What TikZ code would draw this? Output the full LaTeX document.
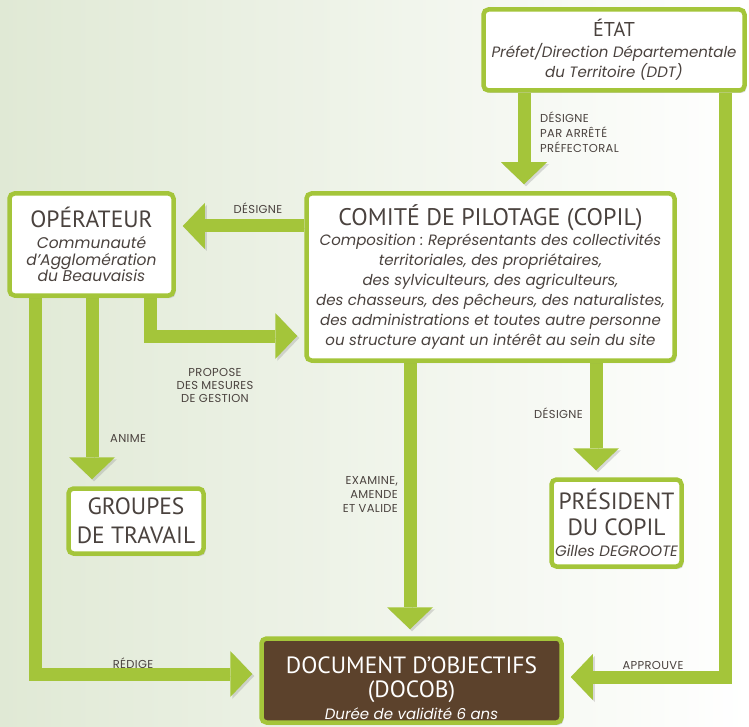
\documentclass[tikz,border=0pt]{standalone}
\usepackage{fontspec}
\setmainfont{PT Sans}
\newfontfamily\geo{Poppins}
\newfontfamily\etiq{Poppins}[LetterSpace=3]
\usepackage{tikz}
\usetikzlibrary{positioning, arrows.meta, shadows, backgrounds}

\definecolor{verde}{RGB}{164,197,58}
\definecolor{texto}{RGB}{74,66,62}
\definecolor{cafe}{RGB}{92,66,44}
\definecolor{fondo}{RGB}{224,233,213}

\newcommand{\ital}[1]{{\geo\itshape #1}}

\tikzset{
    caja/.style={draw=verde, line width=4.5pt, fill=white, rounded corners=5pt,
        align=center, text=texto, inner sep=0pt, font=\fontsize{15}{20}\selectfont,
        drop shadow={shadow xshift=2pt, shadow yshift=-2.5pt, opacity=0.3}},
    flecha/.style={draw=verde, line width=13pt, shorten >=7pt,
        -{Triangle[width=46pt, length=22pt, line width=0pt]},
        preaction={draw=black!45, opacity=0.3, transform canvas={xshift=2pt, yshift=-2pt}}},
    etiqueta/.style={font=\etiq\fontsize{11.5}{15}\selectfont, text=texto, inner sep=0pt}
}

\begin{document}
\frenchspacing
\begin{tikzpicture}[x=1pt, y=-1pt]
    \useasboundingbox (0,0) rectangle (749,727);
    % Cajas
    \node[caja, minimum width=261pt, minimum height=81pt] (etat) at (614,50)
        {{\fontsize{20}{22}\selectfont ÉTAT}\\[1pt]\ital{Préfet/Direction Départementale}\\\ital{du Territoire (DDT)}};
    \node[caja, minimum width=368pt, minimum height=167pt] (copil) at (490.5,277)
        {{\fontsize{24}{24}\selectfont COMITÉ DE PILOTAGE (COPIL)}\\
         \ital{Composition : Représentants des collectivités}\\
         \ital{territoriales, des propriétaires,}\\
         \ital{des sylviculteurs, des agriculteurs,}\\
         \ital{des chasseurs, des pêcheurs, des naturalistes,}\\
         \ital{des administrations et toutes autre personne}\\
         \ital{ou structure ayant un intérêt au sein du site}};
    \node[caja, minimum width=164pt, minimum height=102pt, font=\fontsize{15.5}{16.5}\selectfont] (operateur) at (91.5,244.5)
        {{\fontsize{23.5}{24}\selectfont OPÉRATEUR}\\[5pt]\ital{Communauté}\\\ital{d’Agglomération}\\\ital{du Beauvaisis}};
    \node[caja, minimum width=135pt, minimum height=65pt, font=\fontsize{23.5}{29}\selectfont] (groupes) at (136,521)
        {GROUPES\\DE TRAVAIL};
    \node[caja, minimum width=130pt, minimum height=87pt, font=\fontsize{15}{21}\selectfont] (president) at (616.5,523)
        {{\fontsize{23.5}{24}\selectfont PRÉSIDENT}\\[5pt]{\fontsize{23.5}{24}\selectfont DU COPIL}\\\ital{Gilles DEGROOTE}};
    \node[caja, fill=cafe, text=white, minimum width=300pt, minimum height=84pt, font=\fontsize{15}{22}\selectfont] (docob) at (411.5,680.5)
        {\rule{0pt}{33pt}{\fontsize{23.5}{24}\selectfont DOCUMENT D’OBJECTIFS}\\[2pt]{\fontsize{23.5}{24}\selectfont (DOCOB)}\\\ital{Durée de validité 6 ans}};
    % Repères des flèches
    \coordinate (xa) at (524,0);
    \coordinate (yd) at (0,226);
    \coordinate (xb) at (150,0);
    \coordinate (yb) at (0,336);
    \coordinate (xg) at (92,0);
    \coordinate (xr) at (35,0);
    \coordinate (yr) at (0,674);
    \coordinate (xc) at (410,0);
    \coordinate (xp) at (596,0);
    \coordinate (xe) at (725,0);
    \coordinate (ye) at (0,677);
    % Fond et flèches
    \begin{scope}[on background layer]
        \shade[left color=fondo, right color=white] (0,0) rectangle (749,727);
        \draw[flecha] (etat.south -| xa) -- (copil.north -| xa);
        \draw[flecha] (copil.west |- yd) -- (operateur.east |- yd);
        \draw[flecha] (operateur.south -| xb) |- (yb -| copil.west);
        \draw[flecha] (operateur.south -| xg) -- (groupes.north -| xg);
        \draw[flecha] (operateur.south -| xr) |- (yr -| docob.west);
        \draw[flecha] (copil.south -| xc) -- (docob.north -| xc);
        \draw[flecha] (copil.south -| xp) -- (president.north -| xp);
        \draw[flecha] (etat.south -| xe) |- (ye -| docob.east);
    \end{scope}
    % Etiquettes
    \node[etiqueta, anchor=west, align=left] (lprefet) at (540,132) {DÉSIGNE\\PAR ARRÊTÉ\\PRÉFECTORAL};
    \node[etiqueta] (ldesigne) at (258,208) {DÉSIGNE};
    \node[etiqueta, align=center, font=\etiq\fontsize{11.5}{13}\selectfont] (lpropose) at (215,385) {PROPOSE\\DES MESURES\\DE GESTION};
    \node[etiqueta, anchor=west] (lanime) at (110,438) {ANIME};
    \node[etiqueta, anchor=east, align=right, font=\etiq\fontsize{11.5}{14}\selectfont] (lexamine) at (398,494) {EXAMINE,\\AMENDE\\ET VALIDE};
    \node[etiqueta, anchor=east] (lpresident) at (583,413) {DÉSIGNE};
    \node[etiqueta] (lredige) at (133,663) {RÉDIGE};
    \node[etiqueta] (lapprouve) at (653,665) {APPROUVE};
\end{tikzpicture}
\end{document}
